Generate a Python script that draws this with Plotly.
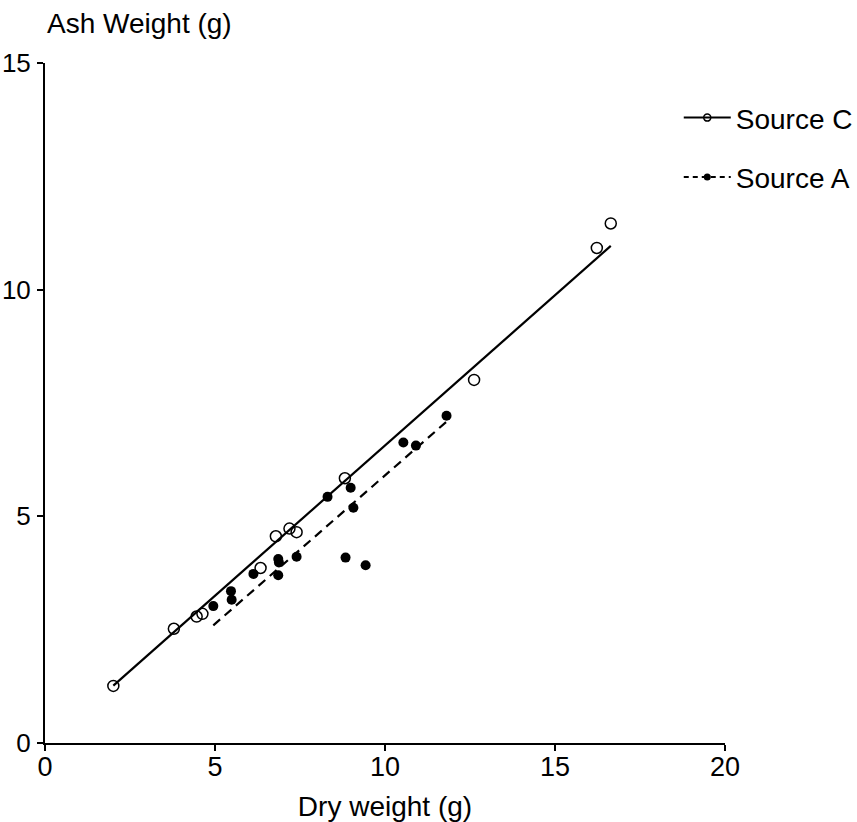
import numpy as np
import plotly.graph_objects as go

# Source C measurements
c_dry = [2.01, 3.79, 4.46, 4.63, 6.34, 6.79, 7.19, 7.40, 8.82, 12.62, 16.23, 16.64]
c_ash = [1.26, 2.52, 2.79, 2.85, 3.86, 4.56, 4.73, 4.65, 5.84, 8.01, 10.92, 11.46]

# Source A measurements
a_dry = [4.95, 5.47, 5.49, 6.13, 6.86, 6.88, 6.86, 7.40, 8.31, 8.99, 9.07, 8.84, 9.43, 10.54, 10.91, 11.81]
a_ash = [3.02, 3.35, 3.16, 3.73, 4.06, 3.98, 3.70, 4.11, 5.43, 5.63, 5.19, 4.09, 3.92, 6.63, 6.56, 7.22]

# reported linear fits: [slope, intercept]
c_fit = [0.663, -0.067]
a_fit = [0.655, -0.647]

x_ticks = [0, 5, 10, 15, 20]
y_ticks = [0, 5, 10, 15]

FONT = "Liberation Sans, Arial, sans-serif"
TICK_FONT = "Liberation Sans Narrow, Arial Narrow, Liberation Sans, sans-serif"


def fit_line(x, params):
    """Fitted line spanning the observed x range."""
    slope, intercept = params
    xs = np.array([min(x), max(x)])
    return xs, slope * xs + intercept


fig = go.Figure()

cx, cy = fit_line(c_dry, c_fit)
ax, ay = fit_line(a_dry, a_fit)

fig.add_trace(go.Scatter(x=cx, y=cy, mode="lines", line=dict(color="black", width=2.2),
                         showlegend=False, hoverinfo="skip"))
fig.add_trace(go.Scatter(x=ax, y=ay, mode="lines",
                         line=dict(color="black", width=2.2, dash="9px,6px"),
                         showlegend=False, hoverinfo="skip"))

fig.add_trace(go.Scatter(x=c_dry, y=c_ash, mode="markers",
                         marker=dict(symbol="circle-open", size=11, color="black",
                                     line=dict(width=1.5, color="black")),
                         showlegend=False))
fig.add_trace(go.Scatter(x=a_dry, y=a_ash, mode="markers",
                         marker=dict(symbol="circle", size=10, color="black"),
                         showlegend=False))

# legend entries: line with marker
fig.add_trace(go.Scatter(x=[None], y=[None], mode="lines+markers", name="Source C",
                         legendgroup="c",
                         line=dict(color="black", width=2),
                         marker=dict(symbol="circle-open", size=7, color="black",
                                     line=dict(width=1.5, color="black"))))
fig.add_trace(go.Scatter(x=[None], y=[None], mode="lines+markers", name="Source A",
                         legendgroup="a",
                         line=dict(color="black", width=2, dash="5px,4px"),
                         marker=dict(symbol="circle", size=7, color="black")))

fig.update_layout(
    width=857, height=822,
    margin=dict(l=45, r=132, t=63, b=79, autoexpand=False),
    paper_bgcolor="white", plot_bgcolor="white",
    font=dict(family=FONT, color="black", size=23),
    showlegend=True,
    legend=dict(x=0.932, y=0.956, xanchor="left", yanchor="top",
                font=dict(size=28, family=FONT), itemwidth=47,
                tracegroupgap=20, bgcolor="rgba(0,0,0,0)"),
    xaxis=dict(range=[0, 20], tickvals=x_ticks, showgrid=False, zeroline=False,
               showline=True, linecolor="black", linewidth=2,
               ticks="outside", ticklen=6, tickwidth=2, tickcolor="black",
               tickfont=dict(size=27, family=TICK_FONT), ticklabelstandoff=-7,
               title=dict(text="Dry weight (g)", font=dict(size=28), standoff=15)),
    yaxis=dict(range=[0, 15], tickvals=y_ticks, showgrid=False, zeroline=False,
               showline=True, linecolor="black", linewidth=2,
               ticks="outside", ticklen=6, tickwidth=2, tickcolor="black",
               tickfont=dict(size=26, family=TICK_FONT), ticklabelstandoff=1),
    annotations=[dict(text="Ash Weight (g)", x=0, y=1, xref="paper", yref="paper",
                      xanchor="left", yanchor="bottom", yshift=22, xshift=0,
                      showarrow=False, font=dict(size=28, family=FONT))],
)

fig.write_html("out.html")
